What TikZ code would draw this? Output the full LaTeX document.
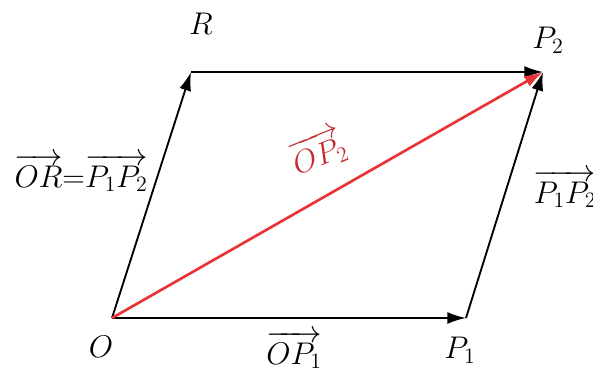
\RequirePackage{fix-cm}
\documentclass[tikz,border=0pt]{standalone}
\usepackage{amsmath}
\usetikzlibrary{arrows.meta}
\definecolor{vecred}{RGB}{232,52,56}
\tikzset{
  vec/.style={-{Latex[length=14pt,width=9pt]}, line width=1.4pt},
  lbl/.style={font=\fontsize{23.5}{28}\selectfont, inner sep=1pt}
}
\begin{document}
\begin{tikzpicture}[x=0.75pt, y=-0.75pt]
\useasboundingbox (0,0) rectangle (593,385);
\coordinate (O) at (112,318);
\coordinate (P1) at (466,318);
\coordinate (R) at (191,72);
\coordinate (P2) at (543,72);

\draw[vec] (O) -- (P1);
\draw[vec] (O) -- (R);
\draw[vec] (R) -- (P2);
\draw[vec] (P1) -- (P2);
\draw[vec, vecred, line width=2pt] (O) -- (P2);

\node[lbl] (lO) at (101,347) {$O$};
\node[lbl] (lP1) at (460,350) {$P_1$};
\node[lbl] (lR) at (201,24) {$R$};
\node[lbl] (lP2) at (548,40) {$P_2$};
\node[lbl] (lOP1) at (294,350) {$\overrightarrow{OP_1}$};
\node[lbl] (lOR) at (81,173) {$\overrightarrow{OR}{=}\overrightarrow{P_1P_2}$};
\node[lbl] (lPP) at (565,189) {$\overrightarrow{P_1P_2}$};
\node[lbl, text=vecred!85!black, rotate=22] (lOP2) at (318,152) {$\overrightarrow{OP_2}$};
\end{tikzpicture}
\end{document}
